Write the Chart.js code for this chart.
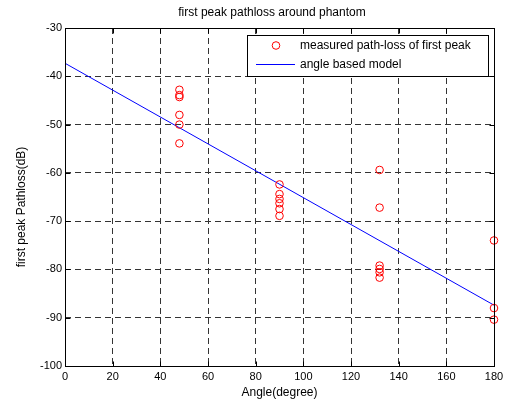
<!DOCTYPE html>
<html>
<head>
<meta charset="utf-8">
<script src="https://cdn.jsdelivr.net/npm/chart.js@4"></script>
<style>
body { margin: 0; background: #fff; }
</style>
</head>
<body>
<canvas id="chart" width="511" height="405"></canvas>
<script>
// data
const measuredAngles = [48, 48, 48, 48, 48, 48, 90, 90, 90, 90, 90, 90, 132, 132, 132, 132, 132, 132, 180, 180, 180]
const measuredLoss = [-42.8, -43.9, -44.3, -48.0, -50.0, -53.9,
    -62.4, -64.4, -65.4, -66.3, -67.5, -68.9,
    -59.4, -67.2, -79.2, -79.9, -80.6, -81.7,
    -74.0, -88.0, -90.4]
const modelAngles = [0, 180]
const modelLoss = [-37.3, -87.4]
const xTicks = [0, 20, 40, 60, 80, 100, 120, 140, 160, 180]
const yTicks = [-30, -40, -50, -60, -70, -80, -90, -100]

const titleText = 'first peak pathloss around phantom'
const xTitle = 'Angle(degree)'
const yTitle = 'first peak Pathloss(dB)'

const FONT = '"Liberation Sans", Arial, sans-serif'
Chart.defaults.font.family = FONT
Chart.defaults.font.size = 11
Chart.defaults.color = '#000'

const ctxChart = document.querySelector('#chart').getContext('2d')

// box, inside ticks, texts and legend in matlab style
const matlabFrame = {
    id: 'matlabFrame',
    afterDatasetsDraw(chart) {
        const {ctx, chartArea: a, scales: {x, y}} = chart
        const L = Math.round(a.left) + 0.5, R = Math.round(a.right) + 0.5
        const T = Math.round(a.top) + 0.5, B = Math.round(a.bottom) + 0.5
        ctx.save()
        ctx.strokeStyle = '#000'
        ctx.lineWidth = 1
        ctx.setLineDash([])
        ctx.strokeRect(L, T, R - L, B - T)
        ctx.beginPath()
        xTicks.forEach(v => {
            const px = Math.round(x.getPixelForValue(v)) + 0.5
            ctx.moveTo(px, B); ctx.lineTo(px, B - 5)
            ctx.moveTo(px, T); ctx.lineTo(px, T + 5)
        })
        yTicks.forEach(v => {
            const py = Math.round(y.getPixelForValue(v)) + 0.5
            ctx.moveTo(L, py); ctx.lineTo(L + 5, py)
            ctx.moveTo(R, py); ctx.lineTo(R - 5, py)
        })
        ctx.stroke()

        // title
        ctx.fillStyle = '#000'
        ctx.font = '12px ' + FONT
        ctx.textAlign = 'center'
        ctx.textBaseline = 'middle'
        ctx.fillText(titleText, 272, 13)

        // y title
        ctx.save()
        ctx.translate(22, 207)
        ctx.rotate(-Math.PI / 2)
        ctx.fillText(yTitle, 0, 0)
        ctx.restore()

        // legend
        const ds = chart.data.datasets
        ctx.fillStyle = '#fff'
        ctx.fillRect(247.5, 35.5, 241, 41)
        ctx.strokeRect(247.5, 35.5, 241, 41)
        ctx.strokeStyle = ds[0].borderColor
        ctx.beginPath()
        ctx.arc(276, 45.5, 3.8, 0, Math.PI * 2)
        ctx.stroke()
        ctx.strokeStyle = ds[1].borderColor
        ctx.beginPath()
        ctx.moveTo(256, 64.5); ctx.lineTo(295, 64.5)
        ctx.stroke()
        ctx.fillStyle = '#000'
        ctx.textAlign = 'left'
        ctx.fillText(ds[0].label, 300, 46)
        ctx.fillText(ds[1].label, 300, 65)
        ctx.restore()
    }
}

new Chart(ctxChart, {
    type: 'scatter',
    data: {
        datasets: [
            {
                label: 'measured path-loss of first peak',
                data: measuredAngles.map((a, i) => ({x: a, y: measuredLoss[i]})),
                borderColor: '#ff0000',
                backgroundColor: 'rgba(0,0,0,0)',
                pointRadius: 3.8,
                borderWidth: 1,
                clip: false
            },
            {
                label: 'angle based model',
                type: 'line',
                data: modelAngles.map((a, i) => ({x: a, y: modelLoss[i]})),
                borderColor: '#0000ff',
                borderWidth: 1,
                pointRadius: 0,
                fill: false
            }
        ]
    },
    options: {
        responsive: false,
        animation: false,
        devicePixelRatio: 1,
        layout: {padding: {top: 28, right: 17, left: 0, bottom: 0}},
        plugins: {
            legend: {display: false},
            title: {display: false},
            tooltip: {enabled: false}
        },
        scales: {
            x: {
                type: 'linear',
                min: 0, max: 180,
                afterBuildTicks: s => { s.ticks = xTicks.map(v => ({value: v})) },
                afterFit: s => { s.height = 39 },
                ticks: {padding: 4, maxRotation: 0, color: '#000'},
                grid: {color: '#333', lineWidth: 1, drawTicks: false},
                border: {display: false, dash: [6, 4]},
                title: {display: true, text: xTitle, font: {size: 12}, padding: {top: 4, bottom: 5}, color: '#000'}
            },
            y: {
                type: 'linear',
                min: -100, max: -30,
                afterBuildTicks: s => { s.ticks = yTicks.map(v => ({value: v})) },
                afterFit: s => { s.width = 65 },
                ticks: {padding: 3, color: '#000'},
                grid: {color: '#333', lineWidth: 1, drawTicks: false},
                border: {display: false, dash: [6, 4]}
            }
        }
    },
    plugins: [matlabFrame]
})
</script>
</body>
</html>
